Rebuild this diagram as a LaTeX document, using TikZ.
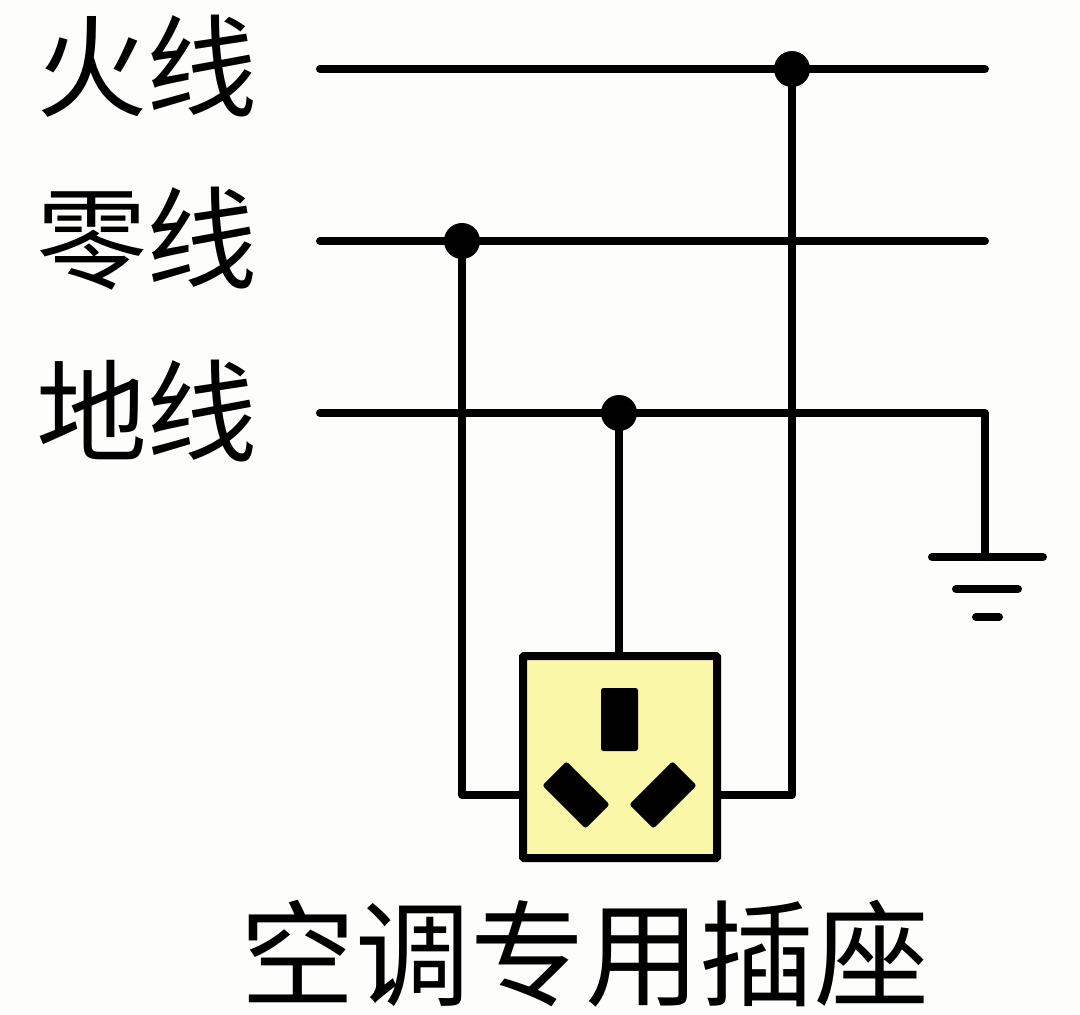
\documentclass[tikz,border=0pt]{standalone}
\usepackage{fontspec}
\setmainfont{Noto Sans CJK SC}
\usetikzlibrary{positioning}
\definecolor{socketyellow}{HTML}{FAF7A8}
\definecolor{paperwhite}{HTML}{FDFDFB}
\tikzset{wire/.style={line width=8pt,line cap=round,line join=round},
         dot node/.style={circle,fill=black,minimum size=36pt,inner sep=0pt},
         socket node/.style={rectangle,draw,line width=8pt,fill=socketyellow,rounded corners=1pt,minimum width=194pt,minimum height=202pt,inner sep=0pt},
         slot node/.style={rectangle,fill=black,rounded corners=2.5pt,minimum width=37pt,minimum height=63pt,inner sep=0pt},
         slant slot/.style={slot node,minimum width=34pt,minimum height=61pt},
         big label/.style={inner sep=0pt,font=\fontsize{111}{113}\selectfont},
         caption label/.style={inner sep=0pt,font=\fontsize{115}{117}\selectfont},
}
\begin{document}
\begin{tikzpicture}[x=1pt,y=-1pt]

\fill[paperwhite] (0,0) rectangle (1080,1015);
\useasboundingbox (0,0) rectangle (1080,1015);

% \draw[help lines] (0,0) grid (1080,1015);

\node[big label] (live) at (147,66) {火线};
\node[big label] (neutral) at (147,239) {零线};
\node[big label] (earth) at (147,411) {地线};
\node[caption label] (caption) at (585,954) {空调专用插座};

\coordinate (live start) at (320,69);
\coordinate (live end) at (985,69);
\coordinate (neutral start) at (320,241);
\coordinate (neutral end) at (985,241);
\coordinate (earth start) at (320,413);
\coordinate (earth corner) at (985,413);
\coordinate (ground) at (985,557);

\node[dot node] (live dot) at (792,69) {};
\node[dot node] (neutral dot) at (462,241) {};
\node[dot node] (earth dot) at (619,413) {};

\node[socket node] (socket) at (620,757) {};
\node[slot node] (top slot) at (619.5,719.5) {};
\node[slant slot,rotate=45] (left slot) at (576,795) {};
\node[slant slot,rotate=-45] (right slot) at (663,795) {};

\coordinate (socket left) at (523,795);
\coordinate (socket right) at (717,795);

\draw[wire] (live start) -- (live end);
\draw[wire] (neutral start) -- (neutral end);
\draw[wire] (earth start) -- (earth corner) -- (ground);
\draw[wire] (live dot.center) |- (socket right);
\draw[wire] (neutral dot.center) |- (socket left);
\draw[wire] (earth dot.center) -- (socket.north -| earth dot);

% ground bars
\coordinate (bar a left) at (932,557);
\coordinate (bar a right) at (1043,557);
\coordinate (bar b left) at (956,589);
\coordinate (bar b right) at (1018,589);
\coordinate (bar c left) at (976,617);
\coordinate (bar c right) at (999,617);
\draw[wire] (bar a left) -- (bar a right);
\draw[wire] (bar b left) -- (bar b right);
\draw[wire] (bar c left) -- (bar c right);
\end{tikzpicture}
\end{document}
